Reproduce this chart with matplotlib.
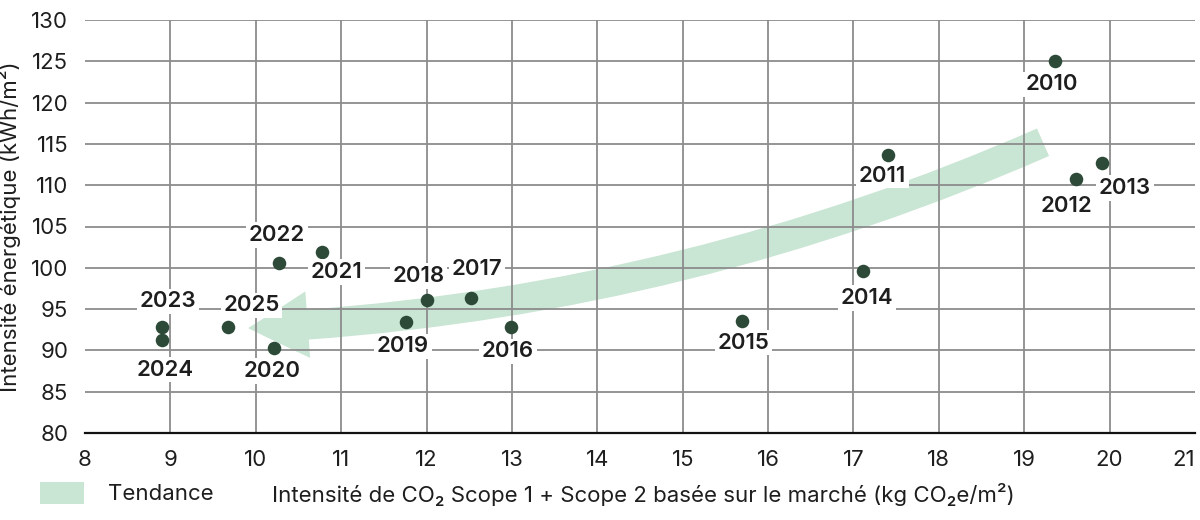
import matplotlib
matplotlib.use("Agg")
import matplotlib.pyplot as plt
from matplotlib.patches import FancyArrowPatch, Rectangle

plt.rcParams['font.family'] = ['Inter', 'DejaVu Sans']

# ---- data ----
years = ['2010', '2011', '2012', '2013', '2014', '2015', '2016', '2017',
         '2018', '2019', '2020', '2021', '2022', '2023', '2024', '2025']
co2 = [19.36, 17.40, 19.61, 19.91, 17.11, 15.69, 12.99, 12.52,
       12.00, 11.76, 10.21, 10.77, 10.27, 8.90, 8.90, 9.68]
energy = [125.0, 113.7, 110.75, 112.7, 99.6, 93.6, 92.8, 96.3,
          96.1, 93.4, 90.3, 101.9, 100.6, 92.8, 91.3, 92.8]
x_ticks = list(range(8, 22))
y_ticks = list(range(80, 131, 5))
trend_start = (19.22, 115.2)
trend_end = (9.91, 92.7)

# label offsets in pixels (dx, dy)
label_off = {
    '2010': (-3, -23), '2011': (-5, -21), '2012': (-10, -27), '2013': (23, -25),
    '2014': (4, -27), '2015': (2, -22), '2016': (-3, -24), '2017': (6, 29),
    '2018': (-8, 24), '2019': (-3, -24), '2020': (-2, -23), '2021': (15, -20),
    '2022': (-2, 28), '2023': (6, 26), '2024': (3, -30), '2025': (23, 22),
}

DPI = 100
PT = 72 / DPI
GREEN_LIGHT = '#c9e5d3'
DOT = '#2d4a38'
GRID = '#8c8c8c'
TXT = '#1e1e1e'
FS = 16

fig = plt.figure(figsize=(12, 5.2), dpi=DPI)
ax = fig.add_axes([85 / 1200, 1 - 433 / 520, 1110 / 1200, 413 / 520])
ax.set_xlim(8, 21)
ax.set_ylim(80, 130)

for s in ['top', 'right', 'left']:
    ax.spines[s].set_visible(False)
ax.spines['bottom'].set_color('#111111')
ax.spines['bottom'].set_linewidth(1.6)
ax.spines['bottom'].set_zorder(2.5)

# grid
ax.hlines(y_ticks[1:], 8, 21, colors=GRID, lw=1.3, zorder=1)
ax.vlines(x_ticks[1:-1], 80, 130, colors=GRID, lw=1.3, zorder=1)

ax.set_xticks(x_ticks)
ax.set_yticks(y_ticks)
ax.tick_params(length=0, labelsize=FS, colors=TXT)
ax.tick_params(axis='x', pad=12)
ax.tick_params(axis='y', pad=12)
fig.canvas.draw()
ax.get_xticklabels()[-1].set_horizontalalignment('right')

ax.set_ylabel('Intensité énergétique (kWh/m²)', fontsize=FS, color=TXT)
ax.yaxis.set_label_coords(-0.058, 0.5)

# trend arrow
arr = FancyArrowPatch(trend_start, trend_end,
                      connectionstyle='arc3,rad=-0.093',
                      arrowstyle='simple,head_length=43,head_width=48,tail_width=21.6',
                      mutation_scale=1, shrinkA=0, shrinkB=0,
                      color=GREEN_LIGHT, lw=0, zorder=0.5)
ax.add_patch(arr)

ax.scatter(co2, energy, s=95, color=DOT, zorder=3, linewidths=0)

for yr, xv, yv in zip(years, co2, energy):
    dx, dy = label_off[yr]
    ax.annotate(yr, (xv, yv), xytext=(dx * PT, dy * PT), textcoords='offset points',
                ha='center', va='center', fontsize=16, fontweight='semibold',
                color=TXT, zorder=4,
                bbox=dict(boxstyle='square,pad=0.12', fc='white', ec='none'))

# legend and x label
fig.patches.append(Rectangle((40 / 1200, 1 - 504 / 520), 44 / 1200, 22 / 520,
                             transform=fig.transFigure, fc=GREEN_LIGHT, ec='none'))
fig.text(108 / 1200, 1 - 494 / 520, 'Tendance', fontsize=FS, color=TXT,
         ha='left', va='center')
fig.text(272 / 1200, 1 - 494 / 520,
         'Intensité de CO₂ Scope 1 + Scope 2 basée sur le marché (kg CO₂e/m²)',
         fontsize=FS, color=TXT, ha='left', va='center')

fig.savefig('out.png', dpi=DPI)
